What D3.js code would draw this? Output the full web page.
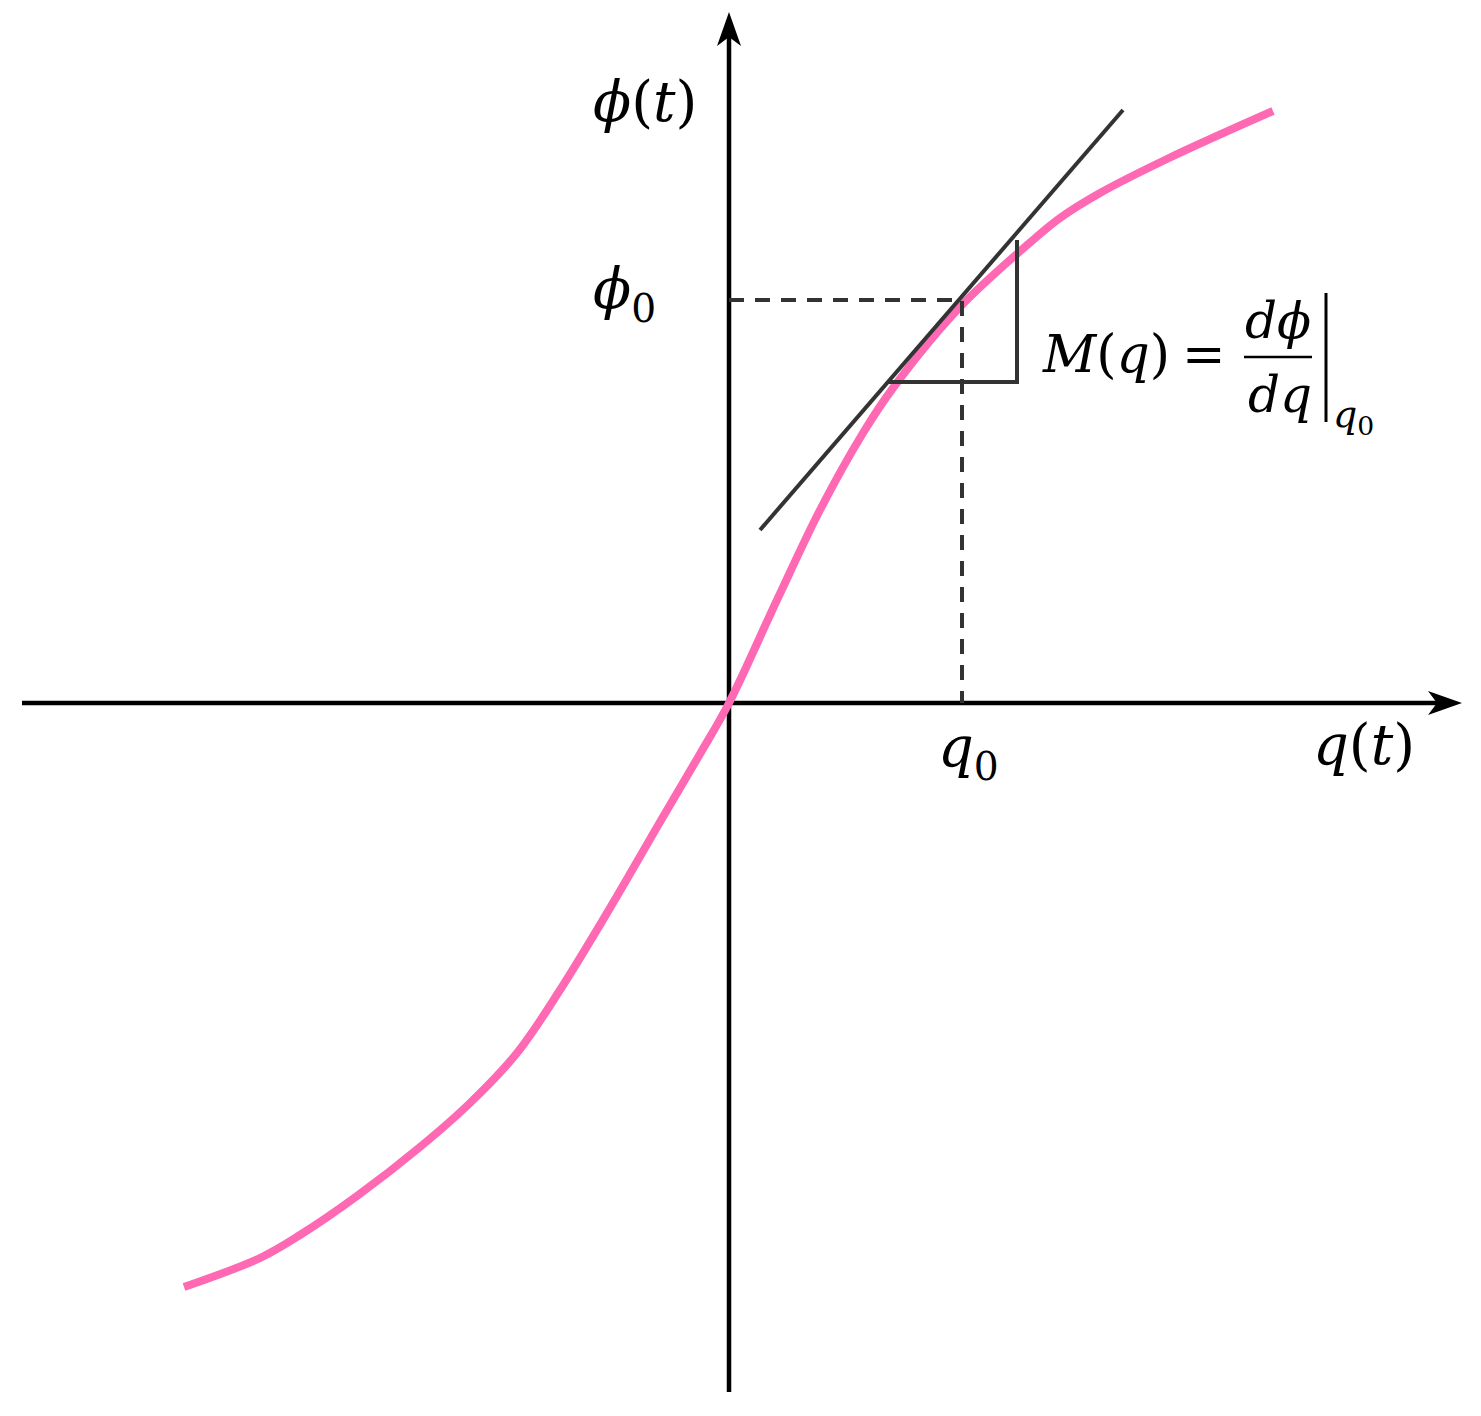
<!DOCTYPE html>
<html>
<head>
<meta charset="utf-8">
<script src="https://cdn.jsdelivr.net/npm/d3@7"></script>
<style>
  body { margin: 0; background: #fff; }
  text { font-family: "DejaVu Serif", "Liberation Serif", serif; fill: #000; }
  .it { font-style: italic; }
</style>
</head>
<body>
<svg id="chart" width="1481" height="1416"></svg>
<script>
// curve q(t) -> phi(t) (1 unit = 100 px)
var curveQ   = [-5.45, -4.69, -4.29, -3.72, -3.09, -2.59, -2.12, -1.69, -1.19, -0.69, -0.29, 0, 0.48, 0.91, 1.34, 1.64, 2.31, 3.04, 3.31, 3.71, 4.38, 5.44];
var curvePhi = [-5.84, -5.55, -5.32, -4.93, -4.44, -4.00, -3.50, -2.87, -2.05, -1.19, -0.51, 0, 1.03, 1.93, 2.70, 3.15, 3.96, 4.63, 4.85, 5.10, 5.44, 5.92];

// operating point and tangent
var q0 = 2.33, phi0 = 4.03;
var tangentQ   = [0.31, 3.94];
var tangentPhi = [1.73, 5.93];
var triangleQ   = [1.59, 2.88, 2.88];
var trianglePhi = [3.21, 3.21, 4.63];

// axis extents
var axisQ   = [-7.07, 7.33];
var axisPhi = [-6.89, 6.91];

var svg = d3.select("#chart");

var x = d3.scaleLinear().domain([-5, 5]).range([229, 1229]);
var y = d3.scaleLinear().domain([-5, 5]).range([1203, 203]);

var line = d3.line()
  .x(function(d) { return x(d[0]); })
  .y(function(d) { return y(d[1]); });

// axes with arrowheads
var aw = 4.5, alen = 34, ahw = 12, anotch = 9;
svg.append("line")
  .attr("x1", x(axisQ[0])).attr("y1", y(0))
  .attr("x2", x(axisQ[1]) - alen + anotch).attr("y2", y(0))
  .attr("stroke", "#000").attr("stroke-width", aw);
svg.append("line")
  .attr("x1", x(0)).attr("y1", y(axisPhi[0]))
  .attr("x2", x(0)).attr("y2", y(axisPhi[1]) + alen - anotch)
  .attr("stroke", "#000").attr("stroke-width", aw);

var tx = x(axisQ[1]), ty = y(0);
svg.append("path")
  .attr("d", "M" + tx + "," + ty + "L" + (tx - alen) + "," + (ty - ahw) + "L" + (tx - alen + anotch) + "," + ty + "L" + (tx - alen) + "," + (ty + ahw) + "Z")
  .attr("fill", "#000");
var ux = x(0), uy = y(axisPhi[1]);
svg.append("path")
  .attr("d", "M" + ux + "," + uy + "L" + (ux - ahw) + "," + (uy + alen) + "L" + ux + "," + (uy + alen - anotch) + "L" + (ux + ahw) + "," + (uy + alen) + "Z")
  .attr("fill", "#000");

// pink curve
var pts = d3.zip(curveQ, curvePhi);
svg.append("path")
  .datum(pts)
  .attr("d", line.curve(d3.curveCatmullRom.alpha(0.5)))
  .attr("fill", "none")
  .attr("stroke", "#ff69b4")
  .attr("stroke-width", 8);

// dashed guides
svg.append("path")
  .datum([[0, phi0], [q0, phi0], [q0, 0]])
  .attr("d", line.curve(d3.curveLinear))
  .attr("fill", "none")
  .attr("stroke", "#333")
  .attr("stroke-width", 4)
  .attr("stroke-dasharray", "15,11");

// tangent
svg.append("path")
  .datum(d3.zip(tangentQ, tangentPhi))
  .attr("d", line.curve(d3.curveLinear))
  .attr("fill", "none")
  .attr("stroke", "#333")
  .attr("stroke-width", 4);

// slope triangle
svg.append("path")
  .datum(d3.zip(triangleQ, trianglePhi))
  .attr("d", line.curve(d3.curveLinear))
  .attr("fill", "none")
  .attr("stroke", "#333")
  .attr("stroke-width", 4);

// labels
var fs = 56;
function label(px, py, parts, size, anchor) {
  var sz = size || fs;
  var t = svg.append("text").attr("x", px).attr("y", py)
    .attr("text-anchor", anchor || "start")
    .style("font-size", sz + "px");
  parts.forEach(function(p) {
    var s = t.append("tspan").text(p.t);
    if (p.it) s.attr("class", "it");
    if (p.sub) s.attr("dy", p.sub).style("font-size", (sz * 0.7) + "px");
    if (p.dx) s.attr("dx", p.dx);
  });
  return t;
}

label(593, 121, [{t: "ϕ", it: true}, {t: "("}, {t: "t", it: true}, {t: ")"}]);
label(593, 308, [{t: "ϕ", it: true}, {t: "0", sub: 14, dx: 0}]);
label(938, 766, [{t: "q", it: true}, {t: "0", sub: 14, dx: 0}]);
label(1313, 764, [{t: "q", it: true}, {t: "("}, {t: "t", it: true}, {t: ")"}]);

// M(q) = dphi/dq |q0
label(1043, 372, [{t: "M", it: true}, {t: "("}, {t: "q", it: true}, {t: ")"}], 52);
label(1182, 372, [{t: "="}], 52);
label(1278, 338, [{t: "d", it: true}, {t: "ϕ", it: true}], 50, "middle");
label(1280, 412, [{t: "d", it: true}, {t: "q", it: true}], 50, "middle");
svg.append("line")
  .attr("x1", 1244).attr("x2", 1312).attr("y1", 357).attr("y2", 357)
  .attr("stroke", "#000").attr("stroke-width", 2.5);
svg.append("line")
  .attr("x1", 1326).attr("x2", 1326).attr("y1", 293).attr("y2", 422)
  .attr("stroke", "#000").attr("stroke-width", 3);
label(1333, 427, [{t: "q", it: true}, {t: "0", sub: 8, dx: 0}], 38);
</script>
</body>
</html>
